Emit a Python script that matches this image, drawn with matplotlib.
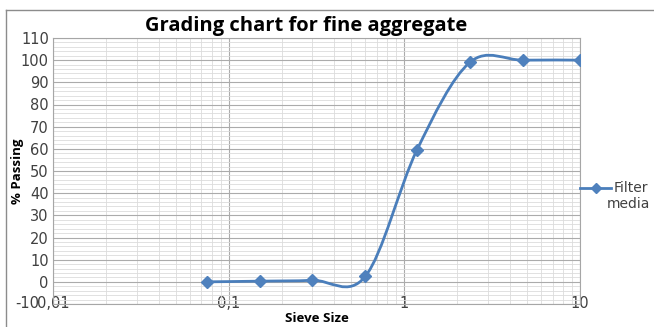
import numpy as np
import matplotlib
matplotlib.use("Agg")
import matplotlib.pyplot as plt
from matplotlib.path import Path
from matplotlib.patches import PathPatch
from matplotlib.lines import Line2D
from matplotlib.ticker import FixedLocator, FixedFormatter, MultipleLocator, FuncFormatter

# sieve sizes (mm) and % passing
sieve_size = [0.075, 0.15, 0.3, 0.6, 1.18, 2.36, 4.75, 10]
passing = [0.0, 0.3, 0.7, 2.5, 59.5, 99.0, 100.0, 100.0]
series_name = ["Filter", "media"]

x_ticks = [0.01, 0.1, 1, 10]
x_ticklabels = ["0,01", "0,1", "1", "10"]

blue = "#4a7ebb"
W, H = 654, 327

fig = plt.figure(figsize=(6.54, 3.27), dpi=100)
ax = fig.add_axes([53 / W, 1 - 304 / H, 527 / W, 266 / H])

# smoothed line like excel: bezier through points, computed in log-x space
lx = np.log10(sieve_size)
py = np.array(passing)
pts = np.column_stack([lx, py])
verts = [pts[0]]
codes = [Path.MOVETO]
n = len(pts)
for i in range(n - 1):
    p0 = pts[i - 1] if i > 0 else pts[i]
    p1 = pts[i]
    p2 = pts[i + 1]
    p3 = pts[i + 2] if i + 2 < n else pts[i + 1]
    c1 = p1 + (p2 - p0) / 6.0
    c2 = p2 - (p3 - p1) / 6.0
    verts += [c1, c2, p2]
    codes += [Path.CURVE4] * 3
verts = np.array(verts)
verts[:, 0] = 10 ** verts[:, 0]
curve = PathPatch(Path(verts, codes), facecolor="none", edgecolor=blue,
                  lw=2.0, zorder=3)
ax.add_patch(curve)
ax.plot(sieve_size, passing, ls="none", marker="D", ms=6.5,
        color="#4f81bd", zorder=4)

ax.set_xscale("log")
ax.set_xlim(0.01, 10)
ax.set_ylim(-10, 110)
ax.xaxis.set_major_locator(FixedLocator(x_ticks))
ax.xaxis.set_major_formatter(FixedFormatter(x_ticklabels))
ax.yaxis.set_major_locator(MultipleLocator(10))
ax.yaxis.set_minor_locator(MultipleLocator(2))
# -10 label is placed by hand so it sits just left of "0,01"
ax.yaxis.set_major_formatter(FuncFormatter(lambda v, p: "" if v < -5 else f"{v:.0f}"))

ax.grid(which="major", color="#ababab", lw=0.8)
ax.grid(which="minor", color="#dcdcdc", lw=0.6)
ax.set_axisbelow(True)
for s in ax.spines.values():
    s.set_color("#a6a6a6")
    s.set_linewidth(0.8)

ax.tick_params(axis="both", which="both", length=0, labelsize=10.5,
               colors="#404040")
ax.tick_params(axis="y", pad=3)
ax.tick_params(axis="x", pad=-6)
ax.tick_params(axis="x", which="minor", labelbottom=False)
fig.text(39 / W, 1 - 304 / H, "-10", ha="right", va="center",
         fontsize=10.5, color="#404040")

ax.set_title("Grading chart for fine aggregate", fontsize=14.5, fontweight="bold",
             family="Open Sans", color="black", pad=5, x=0.48)
ax.set_xlabel("Sieve Size", fontsize=9.5, fontweight="bold", family="Open Sans",
              va="center")
ax.xaxis.set_label_coords(0.5, -(318 - 304) / 266, transform=ax.transAxes)
ax.set_ylabel("% Passing", fontsize=9.5, fontweight="bold", family="Open Sans",
              va="center")
ax.yaxis.set_label_coords(-(53 - 18) / 527, 0.5, transform=ax.transAxes)

# legend drawn by hand, marker line aligned with the first text line
ly = 1 - 188 / H
fig.add_artist(Line2D([580 / W, 611 / W], [ly, ly], transform=fig.transFigure,
                      color=blue, lw=2.0))
fig.add_artist(Line2D([596 / W], [ly], transform=fig.transFigure, ls="none",
                      marker="D", ms=5, color="#4f81bd"))
fig.text(631 / W, ly, series_name[0], ha="center", va="center",
         fontsize=10, color="#404040")
fig.text(628 / W, 1 - 204 / H, series_name[1], ha="center", va="center",
         fontsize=10, color="#404040")

# outer chart border
fig.add_artist(Line2D([6 / W, 1], [1 - 10 / H, 1 - 10 / H],
                      transform=fig.transFigure, color="#8c8c8c", lw=1))
fig.add_artist(Line2D([6 / W, 6 / W], [0, 1 - 10 / H],
                      transform=fig.transFigure, color="#8c8c8c", lw=1))

fig.savefig("out.png", dpi=100)
